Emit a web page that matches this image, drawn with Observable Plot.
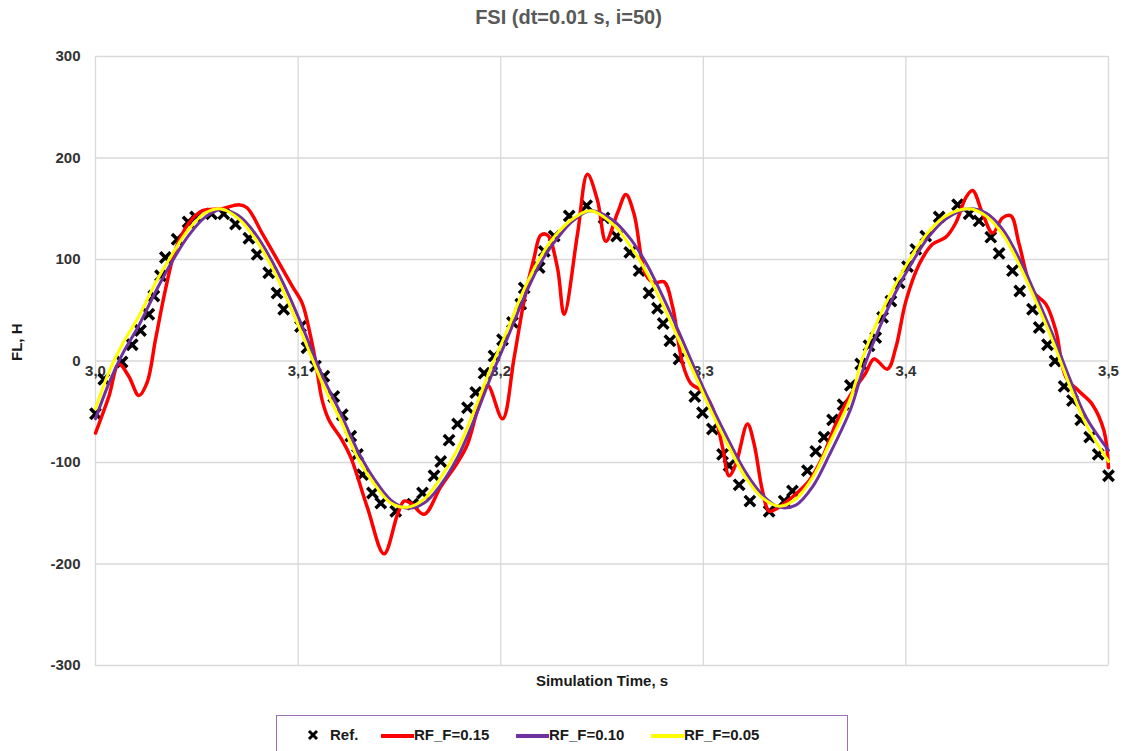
<!DOCTYPE html>
<html>
<head>
<meta charset="utf-8">
<script src="https://cdn.jsdelivr.net/npm/d3@7"></script>
<script src="https://cdn.jsdelivr.net/npm/@observablehq/plot@0.6"></script>
<style>
  html, body { margin: 0; padding: 0; background: #fff; width: 1125px; height: 751px; overflow: hidden; }
  #title { height: 40px; width: 1125px; box-sizing: border-box; padding-left: 12px; padding-top: 6px; text-align: center;
    font-family: "Liberation Sans Narrow", "Arial Narrow", "Liberation Sans", sans-serif; font-weight: bold; font-size: 20px; color: #595959; }
  #chart svg { display: block; }
  #legend { position: absolute; left: 276px; top: 715px; width: 572px; height: 44px; border: 1px solid #9b6fb0; box-sizing: border-box; background: #fff;
    font-family: "Liberation Sans", Arial, sans-serif; font-weight: bold; font-size: 15px; color: #1a1a1a; }
  .lg { position: absolute; top: 10px; }
  .sw { position: absolute; top: 18px; height: 4px; width: 33px; }
</style>
</head>
<body>
<div id="title">FSI (dt=0.01 s, i=50)</div>
<div id="chart"></div>
<div id="legend"></div>
<script>
// ---------- data ----------
const xTicks = [3.0, 3.1, 3.2, 3.3, 3.4, 3.5];
const xTickLabels = ["3,0", "3,1", "3,2", "3,3", "3,4", "3,5"];
const yTicks = [-300, -200, -100, 0, 100, 200, 300];

const seriesNames = ["Ref.", "RF_F=0.15", "RF_F=0.10", "RF_F=0.05"];

// Reference (markers)
const refT = [3.000, 3.0041, 3.0131, 3.0181, 3.0222, 3.0263, 3.0288, 3.0321, 3.0345, 3.0403, 3.0457, 3.0494, 3.0573, 3.0633, 3.0691, 3.0757, 3.0798, 3.0855, 3.0896, 3.0929,
  3.1012, 3.1044, 3.1086, 3.1127, 3.1176, 3.1218, 3.126, 3.1293, 3.1318, 3.1367, 3.1408, 3.1482, 3.1565, 3.1614, 3.1671, 3.1704, 3.1745, 3.1787, 3.1836, 3.1877,
  3.1918, 3.1967, 3.2009, 3.2058, 3.2099, 3.2116, 3.219, 3.2215, 3.2264, 3.2338, 3.2424, 3.251, 3.2572, 3.2637, 3.2683, 3.2732, 3.2774, 3.2802, 3.2835, 3.288,
  3.2958, 3.2996, 3.3045, 3.3095, 3.3127, 3.3177, 3.323, 3.3325, 3.3399, 3.344, 3.3514, 3.3555, 3.3596, 3.3638, 3.369, 3.3726, 3.3777, 3.3818, 3.3851, 3.3885,
  3.3926, 3.3967, 3.4008, 3.4049, 3.4098, 3.4164, 3.4255, 3.4312, 3.4361, 3.4419, 3.446, 3.4526, 3.4562, 3.4625, 3.4658, 3.4699, 3.4736, 3.4781, 3.4822, 3.4863,
  3.4907, 3.4949, 3.5];
const refV = [-52, -18, -1, 16, 30, 46, 64, 84, 102, 120, 137, 142, 145, 145, 135, 121, 105, 87, 67, 51,
  34, 13, -5, -15, -35, -53, -74, -92, -112, -130, -140, -148, -141, -130, -113, -99, -78, -62, -46, -31,
  -12, 5, 21, 38, 56, 72, 92, 108, 123, 143, 153, 141, 123, 107, 89, 67, 52, 37, 20, 2,
  -35, -51, -67, -92, -103, -122, -138, -148, -138, -128, -108, -89, -75, -58, -43, -24, -3, 15, 23, 43,
  59, 77, 93, 110, 123, 142, 154, 145, 138, 122, 106, 89, 69, 51, 33, 16, 0, -25, -39, -58,
  -75, -92, -113];

// RF_F=0.15 (red)
const rf15T = [3.000, 3.0066, 3.0115, 3.0164, 3.0214, 3.0255, 3.0296, 3.0346, 3.0395, 3.0461, 3.0526, 3.0625, 3.0707, 3.0748, 3.0822, 3.0905, 3.097, 3.102, 3.1061, 3.1086,
  3.1118, 3.1152, 3.1217, 3.126, 3.1343, 3.1424, 3.1491, 3.1523, 3.1556, 3.1622, 3.1704, 3.1787, 3.1836, 3.1885, 3.1935, 3.2009, 3.2066, 3.2116, 3.2165, 3.2198,
  3.2231, 3.228, 3.2313, 3.2379, 3.2428, 3.2478, 3.2519, 3.2577, 3.2618, 3.2658, 3.2716, 3.2757, 3.2806, 3.2848, 3.2897, 3.2938, 3.2996, 3.3045, 3.3095, 3.3127,
  3.316, 3.3218, 3.3251, 3.3292, 3.3325, 3.3366, 3.3457, 3.3522, 3.3588, 3.3654, 3.3728, 3.3801, 3.3843, 3.3909, 3.395, 3.4, 3.4065, 3.4131, 3.4197, 3.4246,
  3.4296, 3.4329, 3.4379, 3.4428, 3.4477, 3.4518, 3.4559, 3.4625, 3.4691, 3.474, 3.479, 3.4856, 3.4921, 3.4978, 3.5];
const rf15V = [-71, -35, -3, -15, -34, -21, 21, 71, 110, 136, 148, 150, 154, 151, 126, 97, 74, 57, 25, 0,
  -38, -58, -78, -95, -145, -190, -151, -138, -140, -151, -124, -100, -82, -49, -24, -57, 3, 60, 102, 124,
  124, 92, 46, 125, 184, 158, 118, 146, 164, 145, 85, 77, 78, 54, -2, -22, -30, -46, -85, -113,
  -102, -62, -82, -128, -148, -145, -131, -118, -95, -62, -33, -12, 2, -8, 13, 59, 95, 115, 122, 136,
  161, 168, 145, 126, 141, 143, 115, 69, 56, 30, -16, -30, -43, -69, -105];

// RF_F=0.10 (purple) and RF_F=0.05 (yellow) share sample times
const smoothT = [3.000, 3.0066, 3.0131, 3.0214, 3.0296, 3.0378, 3.0461, 3.0543, 3.0617, 3.0707, 3.079, 3.0872, 3.0954, 3.1037, 3.1118, 3.1211, 3.1293, 3.1375, 3.1458, 3.154,
  3.1622, 3.1704, 3.1787, 3.1869, 3.1951, 3.2034, 3.2116, 3.2198, 3.228, 3.2362, 3.2445, 3.2552, 3.2634, 3.2716, 3.2799, 3.2881, 3.2963, 3.3045, 3.3127, 3.321,
  3.3292, 3.3374, 3.3457, 3.3539, 3.3621, 3.3728, 3.3786, 3.3868, 3.395, 3.4033, 3.4115, 3.4197, 3.4312, 3.4394, 3.4477, 3.4559, 3.4641, 3.4724, 3.4806, 3.4888, 3.5];
const rf10V = [-57, -22, 6, 35, 68, 98, 124, 142, 149, 143, 125, 98, 65, 26, -14, -52, -88, -116, -137, -145,
  -140, -122, -95, -58, -16, 23, 63, 97, 121, 139, 148, 139, 122, 97, 64, 28, -10, -46, -79, -110,
  -132, -144, -142, -124, -93, -47, -10, 32, 68, 98, 123, 140, 150, 146, 130, 101, 65, 26, -16, -55, -88];
const rf05V = [-47, -11, 16, 44, 77, 105, 130, 146, 150, 140, 120, 92, 57, 18, -21, -59, -95, -121, -140, -144,
  -136, -115, -87, -49, -7, 31, 71, 103, 126, 141, 148, 135, 115, 89, 56, 20, -16, -52, -85, -115,
  -135, -143, -136, -115, -82, -36, 3, 43, 76, 105, 128, 143, 150, 143, 125, 95, 59, 20, -23, -62, -99];

const colors = ["#000000", "#ff0000", "#7030a0", "#ffff00"];

// ---------- build tables ----------
const ref = refT.map((t, i) => ({t, v: refV[i]}));
const rf15 = rf15T.map((t, i) => ({t, v: rf15V[i]}));
const rf10 = smoothT.map((t, i) => ({t, v: rf10V[i]}));
const rf05 = smoothT.map((t, i) => ({t, v: rf05V[i]}));

const chart = Plot.plot({
  width: 1125,
  height: 655,
  marginLeft: 95,
  marginRight: 17,
  marginTop: 16,
  marginBottom: 30,
  x: {domain: [3.0, 3.5], axis: null},
  y: {domain: [-300, 300]},
  style: {fontFamily: "Liberation Sans, Arial, sans-serif", fontSize: "14px", color: "#404040", background: "#fff", overflow: "visible"},
  marks: [
    Plot.gridX(xTicks, {stroke: "#d9d9d9", strokeOpacity: 1, strokeWidth: 1.3}),
    Plot.gridY(yTicks, {stroke: "#d9d9d9", strokeOpacity: 1, strokeWidth: 1.3}),
    Plot.axisY(yTicks, {tickSize: 0, tickPadding: 15, label: null, tickFormat: d => String(d), fontWeight: "bold", fontSize: 15, fill: "#333333"}),
    Plot.text(xTicks, {x: d => d, y: 0, text: (d, i) => xTickLabels[i], dy: 10, fontWeight: "bold", fontSize: 15, fill: "#333333"}),
    Plot.text(["FL, H"], {frameAnchor: "left", dx: -78, rotate: -90, fontWeight: "bold", fontSize: 15, fill: "#1a1a1a"}),
    Plot.text(["Simulation Time, s"], {frameAnchor: "bottom", dy: 20, fontWeight: "bold", fontSize: 15, fill: "#1a1a1a"}),
    Plot.dot(ref, {x: "t", y: "v", symbol: "times", r: 4.8, stroke: colors[0], strokeWidth: 3.5}),
    Plot.line(rf15, {x: "t", y: "v", stroke: colors[1], strokeWidth: 3.5, curve: "catmull-rom"}),
    Plot.line(rf10, {x: "t", y: "v", stroke: colors[2], strokeWidth: 3, curve: "catmull-rom"}),
    Plot.line(rf05, {x: "t", y: "v", stroke: colors[3], strokeWidth: 3, curve: "catmull-rom"})
  ]
});
document.getElementById("chart").appendChild(chart);

// ---------- legend ----------
const legend = document.getElementById("legend");
const items = [
  {name: seriesNames[0], marker: true, swLeft: 29, textLeft: 53},
  {name: seriesNames[1], swLeft: 104, textLeft: 137},
  {name: seriesNames[2], swLeft: 239, textLeft: 272},
  {name: seriesNames[3], swLeft: 374, textLeft: 407}
];
items.forEach((it, i) => {
  if (it.marker) {
    const ns = "http://www.w3.org/2000/svg";
    const s = document.createElementNS(ns, "svg");
    s.setAttribute("width", 14); s.setAttribute("height", 14);
    s.style.position = "absolute"; s.style.left = it.swLeft + "px"; s.style.top = "12px";
    s.innerHTML = '<path d="M3,3L11,11M11,3L3,11" stroke="#000" stroke-width="3"/>';
    legend.appendChild(s);
  } else {
    const sw = document.createElement("div");
    sw.className = "sw";
    sw.style.left = it.swLeft + "px";
    sw.style.background = colors[i];
    legend.appendChild(sw);
  }
  const t = document.createElement("div");
  t.className = "lg";
  t.style.left = it.textLeft + "px";
  t.textContent = it.name;
  legend.appendChild(t);
});
</script>
</body>
</html>
